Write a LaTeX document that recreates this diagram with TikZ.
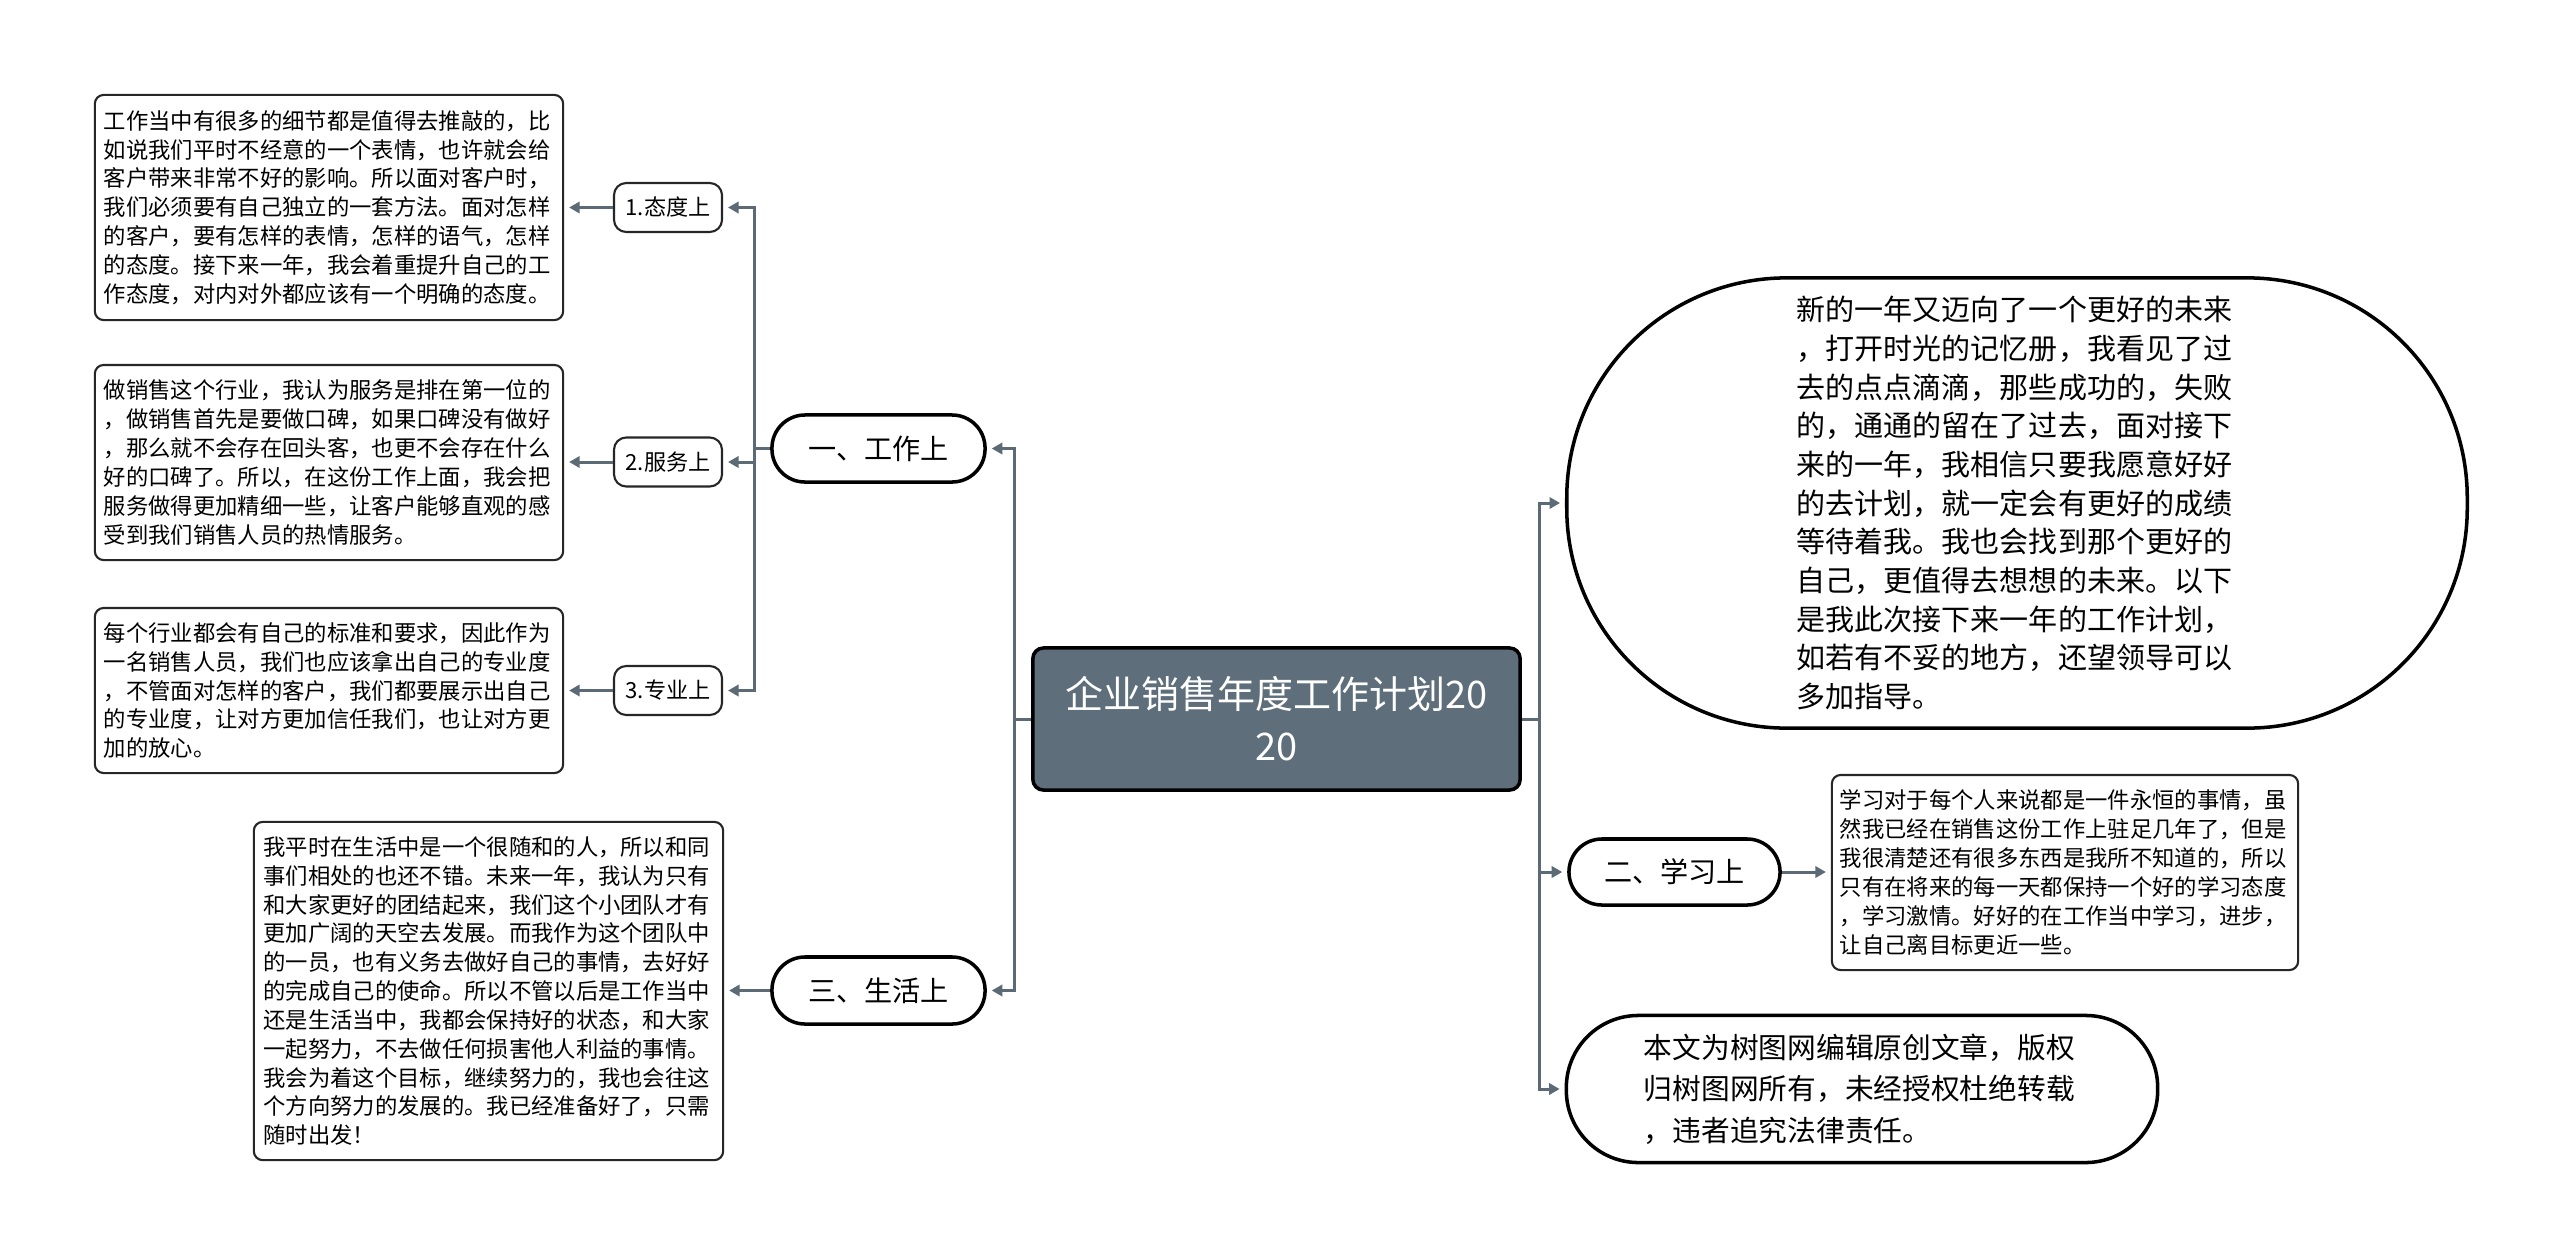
\documentclass[tikz,border=0pt]{standalone}
\usepackage{fontspec}
\newfontfamily\cjk{Noto Sans CJK SC}
\usepackage{xcolor}
\usetikzlibrary{arrows.meta}
\definecolor{slate}{RGB}{91,106,117}
\definecolor{rootfill}{RGB}{94,110,122}

\begin{document}
\begin{tikzpicture}[x=0.01cm,y=-0.01cm,>={Triangle[length=3pt,width=3.2pt]},
  link/.style={draw=slate,line width=0.85pt,->,shorten >=1.4pt},
  textbox/.style={draw=black!85,line width=0.6pt,rounded corners=2.5pt,align=left,inner sep=0pt,
    font=\cjk\fontsize{6.35}{8.2}\selectfont},
  subbox/.style={draw=black!85,line width=0.6pt,rounded corners=3.5pt,inner sep=0pt,
    minimum width=1.08cm,minimum height=0.49cm,font=\cjk\fontsize{6.3}{8}\selectfont},
  pill/.style={draw=black,line width=1pt,rounded corners=0.33cm,inner sep=0pt,
    minimum width=2.13cm,minimum height=0.67cm,font=\cjk\fontsize{8}{10}\selectfont}]
\useasboundingbox (0,0) rectangle (2560,1257);

% root
\node[draw=black,line width=1pt,fill=rootfill,rounded corners=3pt,text=white,align=center,
  minimum width=4.87cm,minimum height=1.42cm,inner sep=0pt,font=\cjk\fontsize{10.8}{14.8}\selectfont]
  (root) at (1276.5,719) {企业销售年度工作计划20\\20};

% left side
\node[pill] (work) at (878.5,448.5) {一、工作上};
\node[pill] (life) at (878.5,990.5) {三、生活上};
\node[subbox] (attitude) at (668,207.5) {1.态度上};
\node[subbox] (service) at (668,462) {2.服务上};
\node[subbox] (skill) at (668,690.5) {3.专业上};

\node[textbox,minimum width=4.68cm,minimum height=2.25cm,text width=4.5cm] (attitudetxt) at (329,207.5)
  {工作当中有很多的细节都是值得去推敲的，比\\如说我们平时不经意的一个表情，也许就会给\\客户带来非常不好的影响。所以面对客户时，\\我们必须要有自己独立的一套方法。面对怎样\\的客户，要有怎样的表情，怎样的语气，怎样\\的态度。接下来一年，我会着重提升自己的工\\作态度，对内对外都应该有一个明确的态度。};
\node[textbox,minimum width=4.68cm,minimum height=1.95cm,text width=4.5cm] (servicetxt) at (329,462.5)
  {做销售这个行业，我认为服务是排在第一位的\\，做销售首先是要做口碑，如果口碑没有做好\\，那么就不会存在回头客，也更不会存在什么\\好的口碑了。所以，在这份工作上面，我会把\\服务做得更加精细一些，让客户能够直观的感\\受到我们销售人员的热情服务。};
\node[textbox,minimum width=4.68cm,minimum height=1.65cm,text width=4.5cm] (skilltxt) at (329,690.5)
  {每个行业都会有自己的标准和要求，因此作为\\一名销售人员，我们也应该拿出自己的专业度\\，不管面对怎样的客户，我们都要展示出自己\\的专业度，让对方更加信任我们，也让对方更\\加的放心。};
\node[textbox,minimum width=4.69cm,minimum height=3.38cm,text width=4.5cm] (lifetxt) at (488.5,991)
  {我平时在生活中是一个很随和的人，所以和同\\事们相处的也还不错。未来一年，我认为只有\\和大家更好的团结起来，我们这个小团队才有\\更加广阔的天空去发展。而我作为这个团队中\\的一员，也有义务去做好自己的事情，去好好\\的完成自己的使命。所以不管以后是工作当中\\还是生活当中，我都会保持好的状态，和大家\\一起努力，不去做任何损害他人利益的事情。\\我会为着这个目标，继续努力的，我也会往这\\个方向努力的发展的。我已经准备好了，只需\\随时出发！};

% right side
\node[draw=black,line width=1pt,rounded corners=2.2cm,align=left,inner sep=0pt,
  minimum width=9cm,minimum height=4.5cm,text width=4.4cm,font=\cjk\fontsize{8.25}{11}\selectfont]
  (intro) at (2017,503)
  {新的一年又迈向了一个更好的未来\\，打开时光的记忆册，我看见了过\\去的点点滴滴，那些成功的，失败\\的，通通的留在了过去，面对接下\\来的一年，我相信只要我愿意好好\\的去计划，就一定会有更好的成绩\\等待着我。我也会找到那个更好的\\自己，更值得去想想的未来。以下\\是我此次接下来一年的工作计划，\\如若有不妥的地方，还望领导可以\\多加指导。};
\node[pill,minimum width=2.11cm,minimum height=0.66cm] (study) at (1674.5,872) {二、学习上};
\node[textbox,minimum width=4.66cm,minimum height=1.95cm,text width=4.5cm] (studytxt) at (2065,872.5)
  {学习对于每个人来说都是一件永恒的事情，虽\\然我已经在销售这份工作上驻足几年了，但是\\我很清楚还有很多东西是我所不知道的，所以\\只有在将来的每一天都保持一个好的学习态度\\，学习激情。好好的在工作当中学习，进步，\\让自己离目标更近一些。};
\node[draw=black,line width=1pt,rounded corners=0.72cm,align=left,inner sep=0pt,
  minimum width=5.91cm,minimum height=1.47cm,text width=4.36cm,font=\cjk\fontsize{8.17}{11.8}\selectfont]
  (notice) at (1862,1089)
  {本文为树图网编辑原创文章，版权\\归树图网所有，未经授权杜绝转载\\，违者追究法律责任。};

% connectors
\draw[link] (root.west) -- ++(-17,0) |- (work.east);
\draw[link] (root.west) -- ++(-17,0) |- (life.east);
\draw[link] (work.west) -- ++(-16,0) |- (attitude.east);
\draw[link] (work.west) -- ++(-16,0) |- (service.east);
\draw[link] (work.west) -- ++(-16,0) |- (skill.east);
\draw[link] (attitude.west) -- (attitude.west -| attitudetxt.east);
\draw[link] (service.west) -- (service.west -| servicetxt.east);
\draw[link] (skill.west) -- (skill.west -| skilltxt.east);
\draw[link] (life.west) -- (life.west -| lifetxt.east);
\draw[link] (root.east) -- ++(18,0) |- (intro.west);
\draw[link] (root.east) -- ++(18,0) |- (study.west);
\draw[link] (root.east) -- ++(18,0) |- (notice.west);
\draw[link] (study.east) -- (study.east -| studytxt.west);
\end{tikzpicture}
\end{document}
